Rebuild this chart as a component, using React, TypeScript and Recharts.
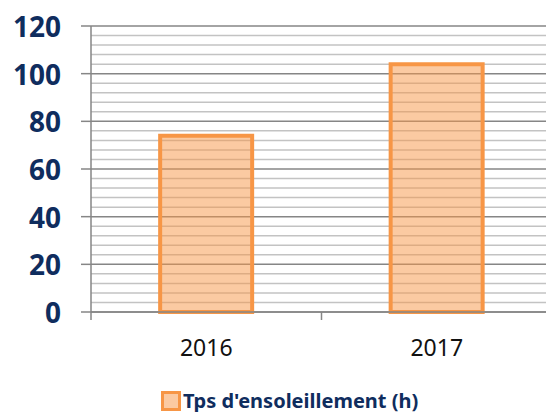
import React from 'react';
import { BarChart, Bar, XAxis, YAxis, CartesianGrid, Legend } from 'recharts';

// Sunshine time per year
const YEARS = ['2016', '2017'];
const SUNSHINE_HOURS = [74, 104];
const SERIES_NAME = "Tps d'ensoleillement (h)";
// every 4 units a gridline; labels on every 20
const Y_TICKS = [0, 4, 8, 12, 16, 20, 24, 28, 32, 36, 40, 44, 48, 52, 56, 60, 64, 68, 72, 76, 80, 84, 88, 92, 96, 100, 104, 108, 112, 116, 120];
const LABEL_STEP = 20;

const data = YEARS.map((year, i) => ({ year, hours: SUNSHINE_HOURS[i] }));

const ORANGE = '#F79646';
const NAVY = '#0F2D5E';
const AXIS_GREY = '#868686';
const MINOR_GREY = '#C3C3C3';
const FONT = '"Noto Sans", sans-serif';

// year label + tick mark on the left boundary of each category
const YearTick = (props: any) => {
  const { x, y, payload } = props;
  const half = payload?.offset ?? 0;
  const axisY = y - 26;
  return (
    <g>
      <line x1={x - half} y1={axisY} x2={x - half} y2={axisY + 8} stroke={AXIS_GREY} strokeWidth={1.5} />
      <text x={x} y={axisY + 35} textAnchor="middle" dominantBaseline="central" fontSize={23} fontFamily={FONT} fill="#111">
        {payload.value}
      </text>
    </g>
  );
};

const ValueTick = (props: any) => {
  const { x, y, payload } = props;
  if (payload.value % LABEL_STEP !== 0) return <g />;
  return (
    <g>
      <line x1={x + 20} y1={y} x2={x + 30} y2={y} stroke={AXIS_GREY} strokeWidth={1.5} />
      <text x={x} y={y} textAnchor="end" dominantBaseline="central" fontSize={28} fontWeight="bold" fontFamily={FONT} fill={NAVY}>
        {payload.value}
      </text>
    </g>
  );
};

const gridLine = (props: any) => {
  const { x1, x2, y1, y2, index } = props;
  const major = typeof index === 'number' && index % 5 === 0;
  return (
    <line
      key={`h-${index}-${y1}`}
      x1={x1}
      x2={x2}
      y1={y1}
      y2={y2}
      stroke={major ? AXIS_GREY : MINOR_GREY}
      strokeWidth={1.5}
    />
  );
};

const renderLegend = (props: any) => (
  <div style={{ display: 'flex', alignItems: 'center', height: 22, lineHeight: 1, fontFamily: FONT, fontSize: 20, fontWeight: 'bold', color: NAVY }}>
    {(props.payload || []).map((entry: any) => (
      <span key={entry.value} style={{ display: 'flex', alignItems: 'center' }}>
        <svg width={20} height={20} style={{ marginRight: 2 }}>
          <rect x={1.5} y={1.5} width={17} height={17} fill={ORANGE} fillOpacity={0.5} stroke={ORANGE} strokeWidth={3} />
        </svg>
        <span>{entry.value}</span>
      </span>
    ))}
  </div>
);

export default function App() {
  return (
    <div style={{ position: 'absolute', left: 0, top: 0, width: 546, height: 412, overflow: 'hidden', background: '#fff' }}>
      <BarChart width={552} height={412} data={data} margin={{ top: 26, right: 0, left: 0, bottom: 0 }} barCategoryGap="30%">
        <CartesianGrid vertical={false} horizontal={gridLine} />
        <XAxis
          dataKey="year"
          height={76}
          axisLine={{ stroke: AXIS_GREY, strokeWidth: 1.5 }}
          tickLine={false}
          tickSize={8}
          tickMargin={18}
          tick={<YearTick />}
          interval={0}
        />
        <YAxis
          width={91}
          domain={[0, 120]}
          ticks={Y_TICKS}
          interval={0}
          axisLine={{ stroke: AXIS_GREY, strokeWidth: 1.5 }}
          tickLine={false}
          tickSize={10}
          tickMargin={20}
          tick={<ValueTick />}
        />
        <Legend height={24} content={renderLegend} wrapperStyle={{ left: 161, top: 390, width: 'auto' }} />
        <Bar
          dataKey="hours"
          name={SERIES_NAME}
          fill={ORANGE}
          fillOpacity={0.5}
          stroke={ORANGE}
          strokeWidth={4}
          isAnimationActive={false}
        />
      </BarChart>
    </div>
  );
}
